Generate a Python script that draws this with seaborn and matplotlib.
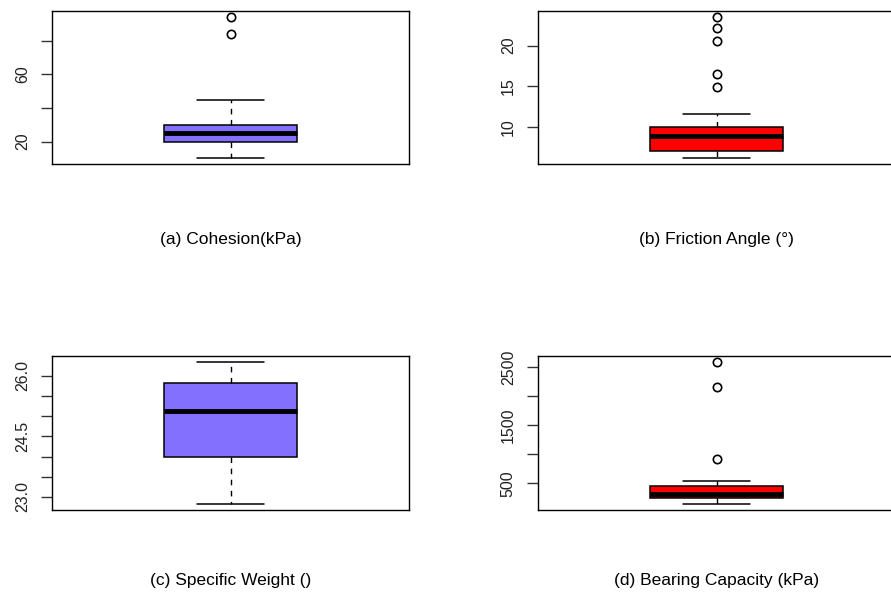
import matplotlib
matplotlib.use("Agg")
import numpy as np
import matplotlib.pyplot as plt
import seaborn as sns

# --- five-number summaries (R-style boxplots) ---
titles = ["(a) Cohesion(kPa)", "(b) Friction Angle (°)",
          "(c) Specific Weight ()", "(d) Bearing Capacity (kPa)"]
q1 = [20.0, 7.1, 24.0, 252.0]
median = [25.2, 8.85, 25.12, 321.0]
q3 = [30.0, 10.0, 25.82, 453.0]
whisker_low = [10.0, 6.15, 22.83, 148.0]
whisker_high = [44.8, 11.55, 26.35, 545.0]
outliers = [[84.0, 94.3],
            [14.9, 16.5, 20.6, 22.2, 23.55],
            [],
            [919.0, 2160.0, 2592.0]]
fill_colors = ["#8470FF", "#FF0000", "#8470FF", "#FF0000"]

# y ticks (R drops labels that would overlap)
tick_values = [[20, 40, 60, 80],
               [10, 15, 20],
               [23.0, 23.5, 24.0, 24.5, 25.0, 25.5, 26.0],
               [500, 1000, 1500, 2000, 2500]]
tick_labels = [["20", "", "60", ""],
               ["10", "15", "20"],
               ["23.0", "", "", "24.5", "", "", "26.0"],
               ["500", "", "1500", "", "2500"]]

sns.set_style("ticks")
plt.rcParams['font.family'] = ['Liberation Sans', 'DejaVu Sans']
plt.rcParams['text.color'] = 'black'
plt.rcParams['axes.labelcolor'] = 'black'
plt.rcParams['ytick.color'] = 'black'

W, H = 891, 596
fig = plt.figure(figsize=(W / 100, H / 100), dpi=100)

# axes boxes in pixels: left, top, width, height
boxes = [(52, 11, 357, 153), (538, 11, 357, 153),
         (52, 356, 357, 153.5), (538, 356, 357, 153.5)]
label_pads = [49, 49, 46, 46]

for i in range(4):
    l, t, w, h = boxes[i]
    ax = fig.add_axes([l / W, 1 - (t + h) / H, w / W, h / H])
    stats = [dict(med=median[i], q1=q1[i], q3=q3[i],
                  whislo=whisker_low[i], whishi=whisker_high[i],
                  fliers=outliers[i], label="")]
    ax.bxp(stats, positions=[1], widths=0.37, capwidths=0.185,
           patch_artist=True,
           boxprops=dict(facecolor=fill_colors[i], edgecolor="black", linewidth=1.1),
           medianprops=dict(color="black", linewidth=3.5, solid_capstyle="butt"),
           whiskerprops=dict(color="black", linewidth=1.0, linestyle=(0, (4, 4))),
           capprops=dict(color="black", linewidth=1.1),
           flierprops=dict(marker="o", markerfacecolor="none", markeredgecolor="black",
                           markersize=6, markeredgewidth=1.2))

    # R pads the data range by 4%
    lo = min([whisker_low[i]] + outliers[i])
    hi = max([whisker_high[i]] + outliers[i])
    pad = 0.04 * (hi - lo)
    ax.set_ylim(lo - pad, hi + pad)
    ax.set_xlim(0.5, 1.5)

    ax.set_xticks([])
    ax.set_yticks(tick_values[i])
    ax.set_yticklabels(tick_labels[i], rotation=90, va="center", fontsize=11.5,
                       color="#222222")
    ax.tick_params(axis="y", length=8, width=1, color="#333333", pad=8)
    for s in ax.spines.values():
        s.set_color("black")
        s.set_linewidth(1.0)
        s.set_visible(True)
    ax.set_xlabel(titles[i], fontsize=12.5, labelpad=label_pads[i], color="black")

fig.savefig("out.png", dpi=100, facecolor="white")
